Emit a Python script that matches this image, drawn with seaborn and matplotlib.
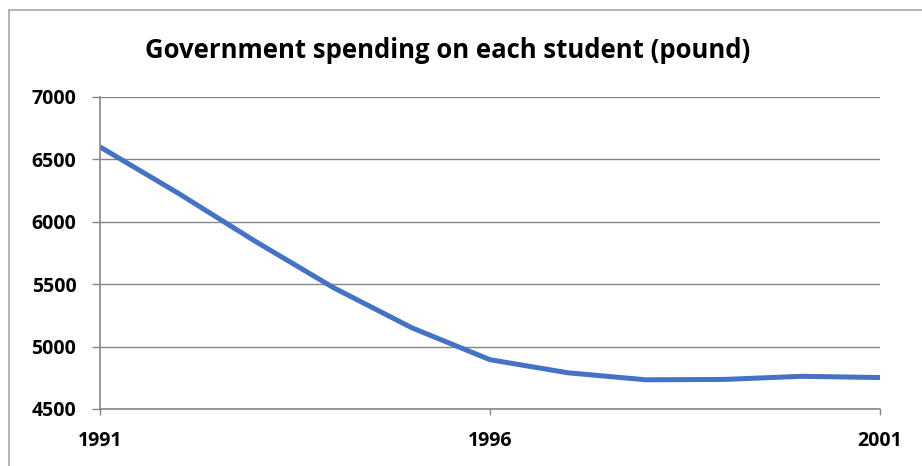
import matplotlib
matplotlib.use("Agg")
import matplotlib.pyplot as plt
import seaborn as sns
import pandas as pd
from matplotlib.patches import Rectangle

years = [1991, 1992, 1993, 1994, 1995, 1996, 1997, 1998, 1999, 2000, 2001]
spending = [6600, 6230, 5840, 5470, 5150, 4895, 4790, 4734, 4737, 4762, 4752]
x_ticks = [1991, 1996, 2001]
y_ticks = [4500, 5000, 5500, 6000, 6500, 7000]
title = "Government spending on each student (pound)"

df = pd.DataFrame({"year": years, "spending": spending})

sns.set_theme(style="white")
plt.rcParams["font.family"] = ["Open Sans", "DejaVu Sans"]

W, H = 922, 466
fig = plt.figure(figsize=(W / 100, H / 100), dpi=100)
fig.patch.set_facecolor("white")
ax = fig.add_axes([100 / W, 1 - 409 / H, 780 / W, 312 / H])

# chart border (top/left visible)
fig.patches.append(Rectangle((9 / W, -0.1), 1.2, 1 - 10 / H + 0.1, transform=fig.transFigure,
                             fill=False, edgecolor="#a6a6a6", linewidth=1.2, zorder=0))

sns.lineplot(data=df, x="year", y="spending", ax=ax, color="#4472C4", linewidth=3.6,
             solid_capstyle="butt", solid_joinstyle="round")

ax.set_xlim(1991, 2001)
ax.set_ylim(4500, 7000)
ax.set_xticks(x_ticks)
ax.set_yticks(y_ticks)
ax.set_xticklabels([str(t) for t in x_ticks], fontsize=14, fontweight="bold", color="black")
ax.set_yticklabels([str(t) for t in y_ticks], fontsize=14, fontweight="bold", color="black")
ax.set_xlabel("")
ax.set_ylabel("")
ax.yaxis.grid(True, color="#868686", linewidth=1.0)
ax.xaxis.grid(False)
for s in ["top", "right"]:
    ax.spines[s].set_visible(False)
for s in ["left", "bottom"]:
    ax.spines[s].set_color("#868686")
    ax.spines[s].set_linewidth(1.2)
ax.tick_params(axis="y", which="major", length=6, width=1, color="#868686", pad=11, left=True, direction="out")
ax.tick_params(axis="x", which="major", length=4, width=1, color="#868686", pad=12, bottom=True, direction="out")

fig.text(448 / W, 1 - 50 / H, title, ha="center", va="center", fontsize=18.5, fontweight="bold", color="black")

fig.savefig("out.png", dpi=100)
